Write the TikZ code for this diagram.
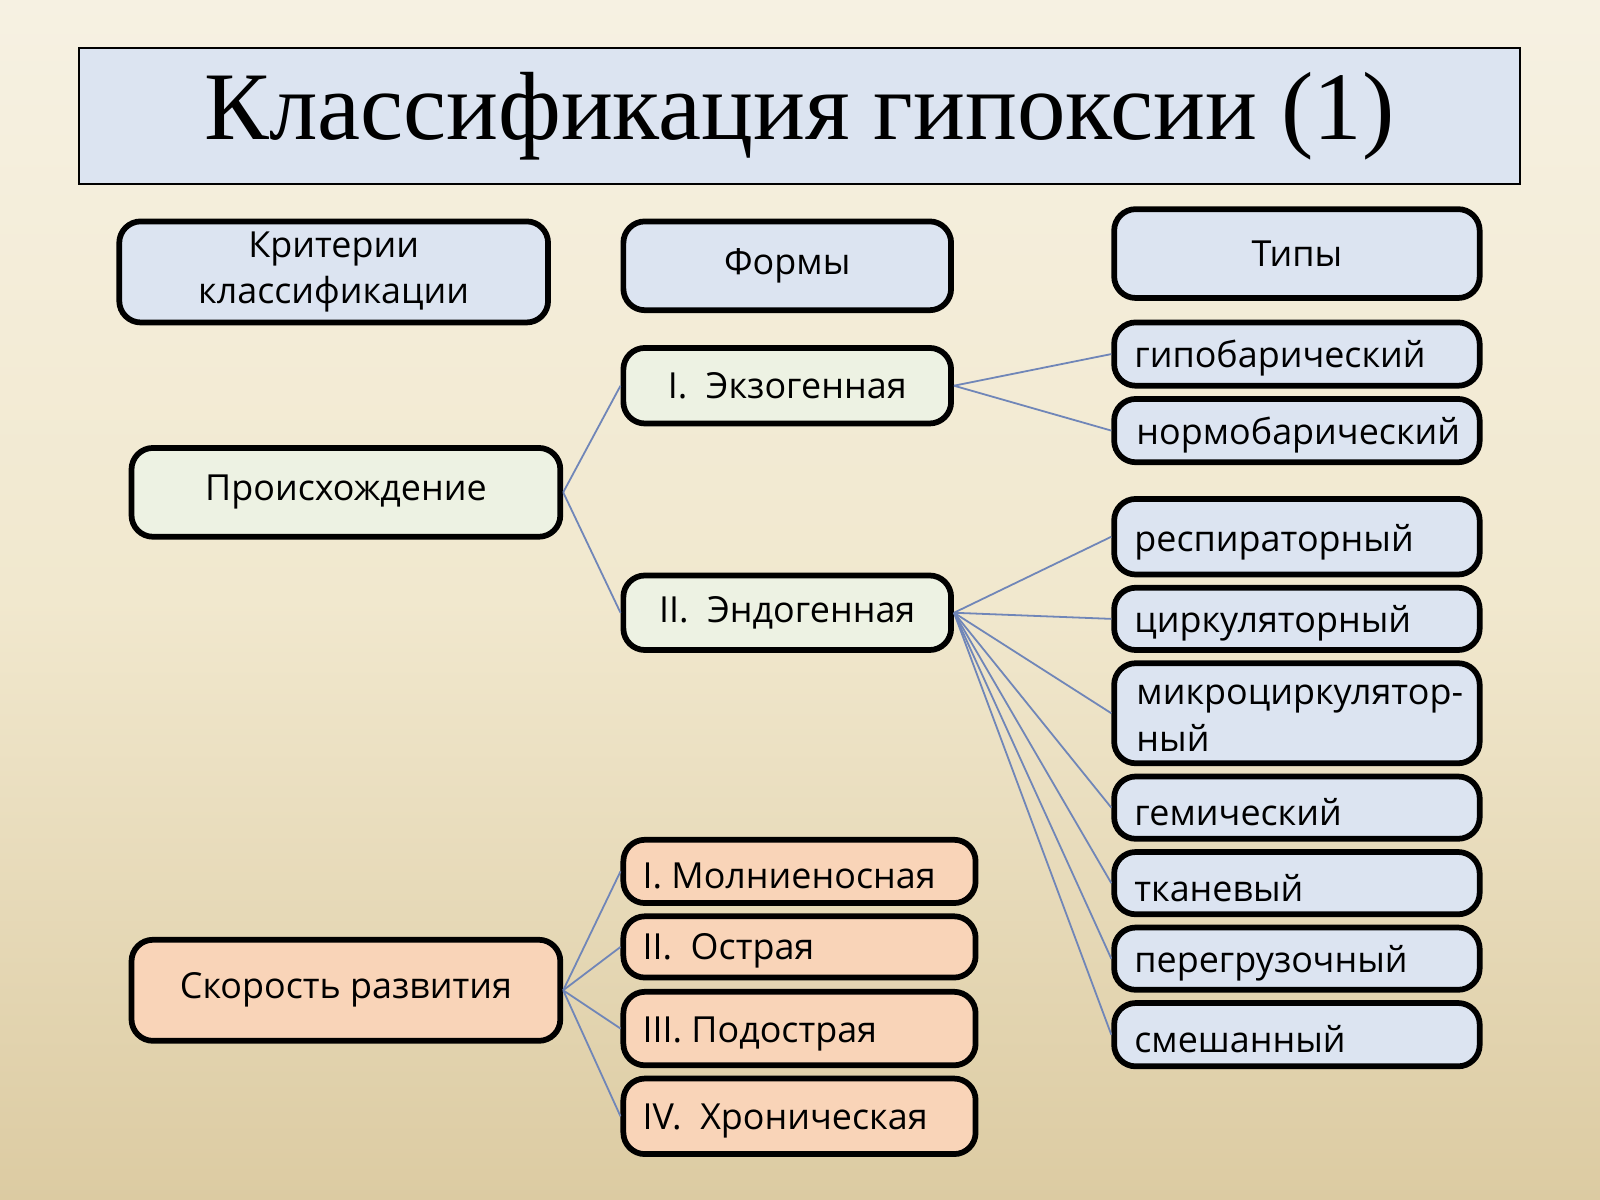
\documentclass[tikz,border=0pt]{standalone}
\usepackage{fontspec}
\setmainfont{Open Sans}
\newfontfamily\titlefont{Liberation Serif}
\definecolor{bgtop}{HTML}{F6F1E2}
\definecolor{bgmid}{HTML}{F1E8CE}
\definecolor{bgbot}{HTML}{DCCBA2}
\definecolor{bfill}{HTML}{DCE4F1}
\definecolor{gfill}{HTML}{EDF2E3}
\definecolor{ofill}{HTML}{F9D4B8}
\definecolor{lncol}{HTML}{7086B8}
\newcommand{\dn}[1]{\raisebox{-0.06cm}{#1}}
\begin{document}
\begin{tikzpicture}[x=0.01cm,y=-0.01cm,
  box/.style={draw=black,line width=1.6pt,rounded corners=6pt,font=\fontsize{10pt}{13pt}\selectfont,inner sep=0pt},
  bl/.style={box,fill=bfill},
  gr/.style={box,fill=gfill},
  og/.style={box,fill=ofill},
  lt/.style={anchor=west,inner sep=0pt,font=\fontsize{10pt}{13pt}\selectfont,align=left},
  ln/.style={draw=lncol,line width=0.5pt}]
\shade[top color=bgtop,bottom color=bgbot,middle color=bgmid] (0,0) rectangle (1568,1176);
\useasboundingbox (0,0) rectangle (1568,1176);
\node[draw=black,line width=0.6pt,fill=bfill,minimum width=14.11cm,minimum height=1.33cm,font=\titlefont\fontsize{27pt}{30pt}\selectfont] (title) at (783.5,113.5) {\raisebox{-0.13cm}{Классификация гипоксии (1)}};
\node[bl,minimum width=4.2cm,minimum height=0.99cm,align=center] (krit) at (327,266.5) {\dn{Критерии}\\\dn{классификации}};
\node[bl,minimum width=3.21cm,minimum height=0.87cm] (formy) at (771.5,260.5) {\dn{Формы}};
\node[bl,minimum width=3.58cm,minimum height=0.87cm] (tipy) at (1271,248.5) {\dn{Типы}};
\node[gr,minimum width=3.21cm,minimum height=0.74cm] (exo) at (771.5,378) {\dn{I.\ \ Экзогенная}};
\node[gr,minimum width=3.21cm,minimum height=0.73cm] (endo) at (771.5,600.5) {\dn{II.\ \ Эндогенная}};
\node[gr,minimum width=4.2cm,minimum height=0.87cm] (proish) at (339,482.5) {\dn{Происхождение}};
\node[og,minimum width=4.2cm,minimum height=0.99cm] (skor) at (339,970.5) {\dn{Скорость развития}};
\tikzset{ol/.style={og,minimum width=3.45cm},
         tl/.style={bl,minimum width=3.58cm}}
\node[ol,minimum height=0.62cm] (f1) at (783.5,854) {};
\node[ol,minimum height=0.60cm] (f2) at (783.5,928) {};
\node[ol,minimum height=0.72cm] (f3) at (783.5,1008) {};
\node[ol,minimum height=0.74cm] (f4) at (783.5,1094) {};
\node[lt] (f1t) at (629,858) {I. Молниеносная};
\node[lt] (f2t) at (629,932) {II.\ \ Острая};
\node[lt] (f3t) at (629,1013) {III. Подострая};
\node[lt] (f4t) at (629,1099) {IV.\ \ Хроническая};
\node[tl,minimum height=0.62cm] (t1) at (1271,347) {};
\node[tl,minimum height=0.62cm] (t2) at (1271,422) {};
\node[tl,minimum height=0.74cm] (t3) at (1271,526) {};
\node[tl,minimum height=0.61cm] (t4) at (1271,606.5) {};
\node[tl,minimum height=0.98cm] (t5) at (1271,699) {};
\node[tl,minimum height=0.61cm] (t6) at (1271,791.5) {};
\node[tl,minimum height=0.61cm] (t7) at (1271,865.5) {};
\node[tl,minimum height=0.61cm] (t8) at (1271,939.5) {};
\node[tl,minimum height=0.62cm] (t9) at (1271,1014) {};
\node[lt] (t1t) at (1111,351) {гипобарический};
\node[lt] (t2t) at (1113,426) {нормобарический};
\node[lt] (t3t) at (1111,531) {респираторный};
\node[lt] (t4t) at (1111,611) {циркуляторный};
\node[lt] (t5t) at (1113,704) {микроциркулятор-\\ный};
\node[lt] (t6t) at (1111,796) {гемический};
\node[lt] (t7t) at (1111,870) {тканевый};
\node[lt] (t8t) at (1111,944) {перегрузочный};
\node[lt] (t9t) at (1111,1018) {смешанный};
\draw[ln] (proish.east) -- (exo.west);
\draw[ln] (proish.east) -- (endo.west);
\foreach \t in {t1,t2} \draw[ln] (exo.east) -- (\t.west);
\foreach \t in {t3,t4,t5,t6,t7,t8,t9} \draw[ln] (endo.east) -- (\t.west);
\foreach \t in {f1,f2,f3,f4} \draw[ln] (skor.east) -- (\t.west);
\end{tikzpicture}
\end{document}
